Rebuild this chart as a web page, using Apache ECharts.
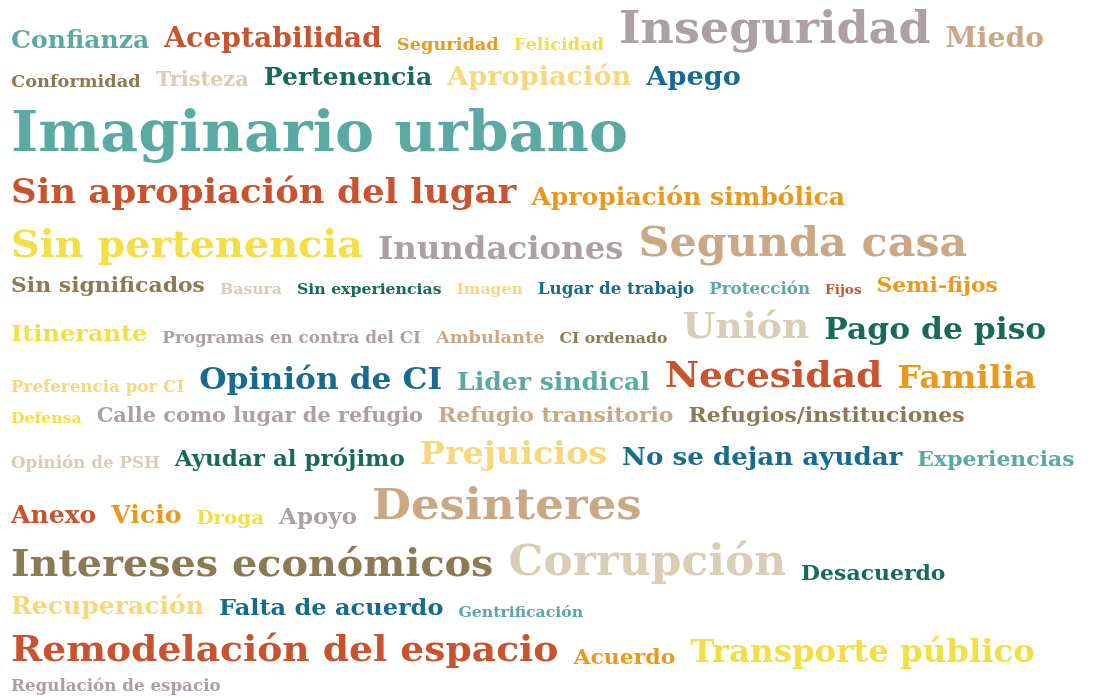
<!DOCTYPE html>
<html>
<head>
<meta charset="utf-8">
<script src="https://cdn.jsdelivr.net/npm/echarts@6/dist/echarts.min.js"></script>
<style>
  html, body { margin: 0; padding: 0; background: #fff; }
  #chart { width: 1095px; height: 696px; }
</style>
</head>
<body>
<div id="chart"></div>
<script>
// words of the cloud, in reading order
var words = [
  'Confianza', 'Aceptabilidad', 'Seguridad', 'Felicidad', 'Inseguridad', 'Miedo',
  'Conformidad', 'Tristeza', 'Pertenencia', 'Apropiación', 'Apego',
  'Imaginario urbano',
  'Sin apropiación del lugar', 'Apropiación simbólica',
  'Sin pertenencia', 'Inundaciones', 'Segunda casa',
  'Sin significados', 'Basura', 'Sin experiencias', 'Imagen', 'Lugar de trabajo', 'Protección', 'Fijos', 'Semi-fijos',
  'Itinerante', 'Programas en contra del CI', 'Ambulante', 'CI ordenado', 'Unión', 'Pago de piso',
  'Preferencia por CI', 'Opinión de CI', 'Lider sindical', 'Necesidad', 'Familia',
  'Defensa', 'Calle como lugar de refugio', 'Refugio transitorio', 'Refugios/instituciones',
  'Opinión de PSH', 'Ayudar al prójimo', 'Prejuicios', 'No se dejan ayudar', 'Experiencias',
  'Anexo', 'Vicio', 'Droga', 'Apoyo', 'Desinteres',
  'Intereses económicos', 'Corrupción', 'Desacuerdo',
  'Recuperación', 'Falta de acuerdo', 'Gentrificación',
  'Remodelación del espacio', 'Acuerdo', 'Transporte público',
  'Regulación de espacio'
];
// weight of each word
var weights = [
  24, 27, 17, 17, 44, 27,
  17, 20, 24, 26, 26,
  56,
  34, 24,
  38, 31, 41,
  21, 15, 15, 15, 16, 16, 13, 21,
  23, 16, 17, 15, 36, 30,
  16, 30, 24, 36, 32,
  15, 20, 21, 21,
  16, 22, 32, 25, 21,
  24, 24, 19, 22, 43,
  38, 42, 21,
  24, 23, 15,
  36, 21, 31,
  16
];
// colour group of each word
var group = [
  0, 1, 2, 3, 5, 6,
  7, 8, 9, 4, 10,
  0,
  1, 2,
  3, 5, 6,
  7, 8, 9, 4, 10, 0, 1, 2,
  3, 5, 6, 7, 8, 9,
  4, 10, 0, 1, 2,
  3, 5, 6, 7,
  8, 9, 4, 10, 0,
  1, 2, 3, 5, 6,
  7, 8, 9,
  4, 10, 0,
  1, 2, 3,
  5
];
// line of the cloud each word sits on
var line = [
  0, 0, 0, 0, 0, 0,
  1, 1, 1, 1, 1,
  2,
  3, 3,
  4, 4, 4,
  5, 5, 5, 5, 5, 5, 5, 5,
  6, 6, 6, 6, 6, 6,
  7, 7, 7, 7, 7,
  8, 8, 8, 8,
  9, 9, 9, 9, 9,
  10, 10, 10, 10, 10,
  11, 11, 11,
  12, 12, 12,
  13, 13, 13,
  14
];

var palette = ['#5aa9a3', '#c8542f', '#e99a1c', '#f3df45', '#f7d77c', '#ad9fa6',
               '#caa886', '#8c7a55', '#d9cdb5', '#17695a', '#176b8c'];
var FONT = '"DejaVu Serif"';
var STRETCH = 1.045;  // the original face is a little wider than DejaVu

// simple flow layout: words left to right, line height from the biggest word
var ctx = document.createElement('canvas').getContext('2d');
var pos = [];
var lineMax = [];
for (var i = 0; i < words.length; i++) {
  lineMax[line[i]] = Math.max(lineMax[line[i]] || 0, weights[i]);
}
var bottoms = [];
var b = -5;
for (var r = 0; r < lineMax.length; r++) {
  b = b + lineMax[r] * 1.2 + 6;
  bottoms.push(b);
}
var cx = 0, cur = -1;
for (var i = 0; i < words.length; i++) {
  if (line[i] != cur) { cur = line[i]; cx = 11; }
  ctx.font = 'bold ' + weights[i] + 'px ' + FONT;
  var w = ctx.measureText(words[i]).width * STRETCH;
  pos.push([cx, bottoms[line[i]]]);
  cx += w + 15;
}

var myChart = echarts.init(document.getElementById('chart'));
myChart.setOption({
  backgroundColor: '#ffffff',
  animation: false,
  series: [{
    type: 'custom',
    coordinateSystem: 'none',
    data: words.map(function (w, i) { return [i, weights[i]]; }),
    renderItem: function (params, api) {
      var i = api.value(0);
      return {
        type: 'text',
        x: pos[i][0],
        y: pos[i][1],
        scaleX: STRETCH,
        style: {
          text: words[i],
          fontSize: api.value(1),
          fontFamily: FONT,
          fontWeight: 'bold',
          fill: palette[group[i]],
          align: 'left',
          verticalAlign: 'bottom'
        }
      };
    }
  }]
});
</script>
</body>
</html>
